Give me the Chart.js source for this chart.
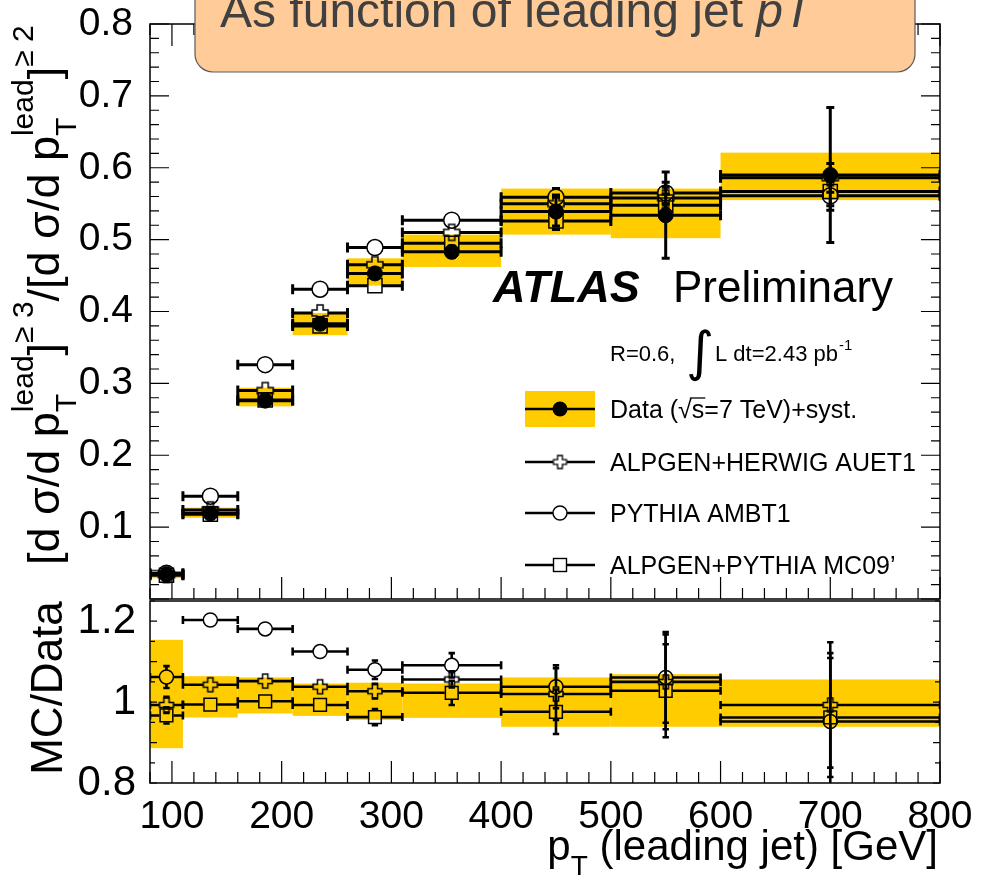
<!DOCTYPE html>
<html>
<head>
<meta charset="utf-8">
<title>ATLAS 3/2 jet ratio vs leading jet pT</title>
<script src="https://cdn.jsdelivr.net/npm/chart.js@4.4.0/dist/chart.umd.min.js"></script>
<style>
  html, body { margin: 0; padding: 0; background: #fff; }
  #wrap { position: relative; width: 981px; height: 887px; overflow: hidden; }
  #top { position: absolute; left: 0; top: 0; }
  #ratio { position: absolute; left: 0; top: 600px; }
</style>
</head>
<body>
<div id="wrap">
  <canvas id="top" width="981" height="600"></canvas>
  <canvas id="ratio" width="981" height="287"></canvas>
</div>
<script>
// === Dados ===
const binEdges = [80, 110, 160, 210, 260, 310, 400, 500, 600, 800];
const binCenters = [95, 135, 185, 235, 285, 355, 450, 550, 700];

// painel de cima: razão 3/2 jatos
const dataVal    = [0.034, 0.119, 0.276, 0.383, 0.453, 0.483, 0.539, 0.534, 0.590];
const dataStat   = [0.001, 0.002, 0.003, 0.004, 0.006, 0.008, 0.020, 0.060, 0.094];
const dataSystLo = [0.029, 0.113, 0.268, 0.367, 0.436, 0.462, 0.507, 0.502, 0.555];
const dataSystHi = [0.039, 0.127, 0.294, 0.398, 0.474, 0.507, 0.571, 0.571, 0.621];
const herwigVal  = [0.034, 0.124, 0.290, 0.398, 0.465, 0.510, 0.550, 0.558, 0.586];
const pythiaVal  = [0.036, 0.143, 0.326, 0.431, 0.489, 0.527, 0.559, 0.565, 0.561];
const mc09Val    = [0.033, 0.118, 0.277, 0.380, 0.436, 0.495, 0.526, 0.548, 0.567];
const mcStat     = [0.001, 0.002, 0.003, 0.003, 0.005, 0.006, 0.012, 0.015, 0.020];

// painel de baixo: MC/Data
const herwigRatio    = [0.993, 1.043, 1.052, 1.038, 1.027, 1.056, 1.020, 1.050, 0.993];
const pythiaRatio    = [1.062, 1.203, 1.181, 1.125, 1.080, 1.091, 1.038, 1.061, 0.952];
const mc09Ratio      = [0.967, 0.994, 1.002, 0.993, 0.963, 1.023, 0.976, 1.028, 0.962];
const herwigRatioErr = [0.020, 0.006, 0.006, 0.006, 0.018, 0.020, 0.064, 0.117, 0.155];
const pythiaRatioErr = [0.027, 0.006, 0.006, 0.008, 0.023, 0.030, 0.053, 0.112, 0.169];
const mc09RatioErr   = [0.020, 0.006, 0.006, 0.006, 0.020, 0.030, 0.055, 0.115, 0.147];
const ratioBandLo    = [0.886, 0.962, 0.972, 0.966, 0.956, 0.961, 0.939, 0.939, 0.939];
const ratioBandHi    = [1.154, 1.064, 1.061, 1.046, 1.048, 1.046, 1.061, 1.069, 1.056];

// eixos
const topTickValues   = [0.1, 0.2, 0.3, 0.4, 0.5, 0.6, 0.7, 0.8];
const topTickLabels   = ['0.1', '0.2', '0.3', '0.4', '0.5', '0.6', '0.7', '0.8'];
const ratioTickValues = [0.8, 1.0, 1.2];
const ratioTickLabels = ['0.8', '1', '1.2'];
const xTickValues     = [100, 200, 300, 400, 500, 600, 700, 800];
const xTickLabels     = ['100', '200', '300', '400', '500', '600', '700', '800'];

const legendLabels = ['Data (\u221As=7 TeV)+syst.', 'ALPGEN+HERWIG AUET1', 'PYTHIA AMBT1', 'ALPGEN+PYTHIA MC09\u2019'];

const FONT = '"Liberation Sans", Arial, Helvetica, sans-serif';
const YELLOW = '#FFCC00';

// === Marcador "cruz aberta" (estilo ROOT 28) ===
function makeCross(L, a, lw) {
    const c = document.createElement('canvas');
    const n = Math.ceil(2 * L + lw + 2);
    c.width = n; c.height = n;
    const g = c.getContext('2d');
    g.translate(n / 2, n / 2);
    g.beginPath();
    g.moveTo(-a, -L); g.lineTo(a, -L); g.lineTo(a, -a); g.lineTo(L, -a);
    g.lineTo(L, a); g.lineTo(a, a); g.lineTo(a, L); g.lineTo(-a, L);
    g.lineTo(-a, a); g.lineTo(-L, a); g.lineTo(-L, -a); g.lineTo(-a, -a);
    g.closePath();
    g.lineWidth = lw; g.strokeStyle = '#000'; g.stroke();
    return c;
}
const crossTop = makeCross(8, 3, 1.5);
const crossRatio = makeCross(7, 2.6, 1.5);
const crossLegend = makeCross(6.5, 2.4, 1.3);

// === Helpers de desenho ===
function points(vals) {
    return binCenters.map((x, i) => ({ x: x, y: vals[i] }));
}

function drawBands(chart, lo, hi) {
    const { ctx, scales: { x, y } } = chart;
    ctx.fillStyle = YELLOW;
    for (let i = 0; i < lo.length; i++) {
        const x0 = x.getPixelForValue(binEdges[i]);
        const x1 = x.getPixelForValue(binEdges[i + 1]);
        const yt = y.getPixelForValue(hi[i]);
        const yb = y.getPixelForValue(lo[i]);
        ctx.fillRect(x0, yt, x1 - x0, yb - yt);
    }
}

function drawErrors(chart, vals, errs, gap, lw, cap) {
    const { ctx, scales: { x, y } } = chart;
    ctx.strokeStyle = '#000';
    ctx.lineWidth = lw;
    ctx.beginPath();
    for (let i = 0; i < vals.length; i++) {
        const x0 = x.getPixelForValue(binEdges[i]);
        const x1 = x.getPixelForValue(binEdges[i + 1]);
        const xc = x.getPixelForValue(binCenters[i]);
        const yc = y.getPixelForValue(vals[i]);
        ctx.moveTo(x0, yc); ctx.lineTo(xc - gap, yc);
        ctx.moveTo(xc + gap, yc); ctx.lineTo(x1, yc);
        ctx.moveTo(x0, yc - cap); ctx.lineTo(x0, yc + cap);
        ctx.moveTo(x1, yc - cap); ctx.lineTo(x1, yc + cap);
        const yt = y.getPixelForValue(vals[i] + errs[i]);
        const yb = y.getPixelForValue(vals[i] - errs[i]);
        if (yc - yt > gap) {
            ctx.moveTo(xc, yc - gap); ctx.lineTo(xc, yt);
            ctx.moveTo(xc - cap * 0.8, yt); ctx.lineTo(xc + cap * 0.8, yt);
        }
        if (yb - yc > gap) {
            ctx.moveTo(xc, yc + gap); ctx.lineTo(xc, yb);
            ctx.moveTo(xc - cap * 0.8, yb); ctx.lineTo(xc + cap * 0.8, yb);
        }
    }
    ctx.stroke();
}

// moldura com marcas para dentro (estilo ROOT)
function drawFrame(chart, o) {
    const { ctx, chartArea: a, scales: { x, y } } = chart;
    ctx.save();
    ctx.strokeStyle = '#000';
    ctx.lineWidth = 1.5;
    ctx.strokeRect(a.left, a.top, a.right - a.left, a.bottom - a.top);
    ctx.lineWidth = 1.2;
    ctx.beginPath();
    for (let k = 0; k <= 36; k++) {
        const v = 80 + k * 20;
        const px = x.getPixelForValue(v);
        const len = v % 100 === 0 ? o.xMajor : o.xMinor;
        ctx.moveTo(px, a.bottom); ctx.lineTo(px, a.bottom - len);
        if (o.topTicks) { ctx.moveTo(px, a.top); ctx.lineTo(px, a.top + len); }
    }
    for (let k = 0; k <= o.yCount; k++) {
        const v = o.yStart + k * o.yStep;
        const py = y.getPixelForValue(v);
        const len = k % o.yMajorEvery === 0 ? o.yMajor : o.yMinor;
        ctx.moveTo(a.left, py); ctx.lineTo(a.left + len, py);
        ctx.moveTo(a.right, py); ctx.lineTo(a.right - len, py);
    }
    ctx.stroke();
    ctx.restore();
}

// texto com sub/sobrescritos
function richText(ctx, parts, x, y, draw) {
    let cx = x, hold = 0;
    for (const p of parts) {
        ctx.font = (p.it ? 'italic ' : '') + (p.b ? 'bold ' : '') + p.s + 'px ' + FONT;
        const w = ctx.measureText(p.t).width;
        if (draw) ctx.fillText(p.t, cx, y + (p.dy || 0));
        if (p.hold) hold = Math.max(hold, w);
        else { cx += Math.max(w, hold); hold = 0; }
    }
    return cx - x;
}

function roundBox(ctx, x0, y0, x1, y1, r) {
    ctx.beginPath();
    ctx.moveTo(x0 + r, y0);
    ctx.lineTo(x1 - r, y0); ctx.arcTo(x1, y0, x1, y0 + r, r);
    ctx.lineTo(x1, y1 - r); ctx.arcTo(x1, y1, x1 - r, y1, r);
    ctx.lineTo(x0 + r, y1); ctx.arcTo(x0, y1, x0, y1 - r, r);
    ctx.lineTo(x0, y0 + r); ctx.arcTo(x0, y0, x0 + r, y0, r);
    ctx.closePath();
}

// === Plugin do painel de cima ===
const topDecor = {
    id: 'topDecor',
    beforeDatasetsDraw(chart) {
        const { ctx, chartArea: a } = chart;
        ctx.save();
        ctx.beginPath(); ctx.rect(a.left, a.top, a.right - a.left, a.bottom - a.top); ctx.clip();
        drawBands(chart, dataSystLo, dataSystHi);
        drawErrors(chart, mc09Val, mcStat, 7, 3, 5);
        drawErrors(chart, pythiaVal, mcStat, 8, 3, 5);
        drawErrors(chart, herwigVal, mcStat, 8, 3, 5);
        drawErrors(chart, dataVal, dataStat, 0, 3, 5);
        ctx.restore();
    },
    afterDatasetsDraw(chart) {
        const { ctx } = chart;
        drawFrame(chart, { xMajor: 22, xMinor: 11, topTicks: true,
            yStart: 0, yStep: 0.02, yCount: 40, yMajorEvery: 5, yMajor: 19, yMinor: 9 });

        ctx.save();
        // caixa do título
        roundBox(ctx, 195, -40, 915, 72, 18);
        ctx.fillStyle = '#FFCC99';
        ctx.fill();
        ctx.strokeStyle = '#5a5a5a';
        ctx.lineWidth = 1.2;
        ctx.stroke();
        ctx.fillStyle = '#404040';
        ctx.textBaseline = 'alphabetic';
        richText(ctx, [{ t: 'As function of leading jet ', s: 48 }, { t: 'pT', s: 48, it: true }], 220, 27, true);

        // ATLAS Preliminary
        ctx.fillStyle = '#000';
        ctx.font = 'italic bold 45px ' + FONT;
        ctx.fillText('ATLAS', 493, 302);
        ctx.font = '44px ' + FONT;
        ctx.fillText('Preliminary', 673, 302);

        // R=0.6, ∫ L dt = 2.43 pb^-1
        ctx.font = '22px ' + FONT;
        ctx.fillText('R=0.6,', 610, 361);
        ctx.font = '54px "DejaVu Sans", ' + FONT;
        ctx.fillText('\u222B', 686, 370);
        ctx.font = '22px ' + FONT;
        ctx.fillText('L dt=2.43 pb', 715, 361);
        const wpb = ctx.measureText('L dt=2.43 pb').width;
        ctx.font = '15px ' + FONT;
        ctx.fillText('-1', 715 + wpb + 1, 350);

        // legenda
        const ly = [409, 462, 513, 565];
        ctx.fillStyle = YELLOW;
        ctx.fillRect(525, 391, 70, 36);
        ctx.strokeStyle = '#000';
        ctx.lineWidth = 2.5;
        ctx.beginPath();
        ly.forEach((yy, i) => {
            const g = i === 0 ? 0 : 7;
            ctx.moveTo(525, yy); ctx.lineTo(560 - g, yy);
            ctx.moveTo(560 + g, yy); ctx.lineTo(595, yy);
        });
        ctx.stroke();
        ctx.fillStyle = '#000';
        ctx.beginPath(); ctx.arc(560, ly[0], 7.5, 0, Math.PI * 2); ctx.fill();
        ctx.drawImage(crossLegend, 560 - crossLegend.width / 2, ly[1] - crossLegend.height / 2);
        ctx.lineWidth = 1.4;
        ctx.beginPath(); ctx.arc(560, ly[2], 7, 0, Math.PI * 2); ctx.stroke();
        ctx.strokeRect(553.5, ly[3] - 6.5, 13, 13);

        ctx.font = '25px ' + FONT;
        legendLabels.forEach((t, i) => ctx.fillText(t, 610, ly[i] + 9));
        // barra do √s
        const wPre = ctx.measureText('Data (\u221A').width;
        const wS = ctx.measureText('s').width;
        ctx.lineWidth = 1.3;
        ctx.beginPath();
        ctx.moveTo(610 + wPre - 2, ly[0] - 11);
        ctx.lineTo(610 + wPre + wS + 1, ly[0] - 11);
        ctx.stroke();

        // título do eixo y (rotacionado)
        const yTitle = [
            { t: '[d \u03C3/d p', s: 45 },
            { t: 'T', s: 30, dy: 17, hold: true },
            { t: 'lead', s: 30, dy: -26 },
            { t: ']', s: 45 },
            { t: '\u2265 3', s: 30, dy: -26 },
            { t: '/[d \u03C3/d p', s: 45 },
            { t: 'T', s: 30, dy: 17, hold: true },
            { t: 'lead', s: 30, dy: -26 },
            { t: ']', s: 45 },
            { t: '\u2265 2', s: 30, dy: -26 }
        ];
        ctx.translate(59, 565);
        ctx.rotate(-Math.PI / 2);
        richText(ctx, yTitle, 0, 0, true);
        ctx.restore();
    }
};

// === Plugin do painel de razão ===
const ratioDecor = {
    id: 'ratioDecor',
    beforeDatasetsDraw(chart) {
        const { ctx, chartArea: a } = chart;
        ctx.save();
        ctx.beginPath(); ctx.rect(a.left, a.top, a.right - a.left, a.bottom - a.top); ctx.clip();
        drawBands(chart, ratioBandLo, ratioBandHi);
        drawErrors(chart, mc09Ratio, mc09RatioErr, 7, 2.6, 4);
        drawErrors(chart, pythiaRatio, pythiaRatioErr, 7, 2.6, 4);
        drawErrors(chart, herwigRatio, herwigRatioErr, 7, 2.6, 4);
        ctx.restore();
    },
    afterDatasetsDraw(chart) {
        const { ctx } = chart;
        drawFrame(chart, { xMajor: 22, xMinor: 11, topTicks: false,
            yStart: 0.8, yStep: 0.05, yCount: 9, yMajorEvery: 2, yMajor: 7, yMinor: 5 });
        ctx.save();
        ctx.fillStyle = '#000';
        // MC/Data
        ctx.save();
        ctx.translate(62, 88);
        ctx.rotate(-Math.PI / 2);
        ctx.font = '44px ' + FONT;
        ctx.textAlign = 'center';
        ctx.fillText('MC/Data', 0, 0);
        ctx.restore();
        // título do eixo x
        const xTitle = [
            { t: 'p', s: 42 },
            { t: 'T', s: 28, dy: 15 },
            { t: ' (leading jet) [GeV]', s: 42 }
        ];
        const w = richText(ctx, xTitle, 0, 0, false);
        richText(ctx, xTitle, 938 - w, 260, true);
        ctx.restore();
    }
};

const fontTicks = { family: FONT, size: 39 };

// === Gráfico de cima ===
new Chart(document.getElementById('top'), {
    type: 'scatter',
    data: {
        datasets: [
            { label: 'Data', data: points(dataVal), pointStyle: 'circle', pointRadius: 7.5,
              backgroundColor: '#000', borderColor: '#000', borderWidth: 1 },
            { label: 'PYTHIA AMBT1', data: points(pythiaVal), pointStyle: 'circle', pointRadius: 8,
              backgroundColor: 'rgba(0,0,0,0)', borderColor: '#000', borderWidth: 1.5 },
            { label: 'ALPGEN+HERWIG AUET1', data: points(herwigVal), pointStyle: crossTop, pointRadius: 8,
              backgroundColor: 'rgba(0,0,0,0)', borderColor: '#000' },
            { label: 'ALPGEN+PYTHIA MC09', data: points(mc09Val), pointStyle: 'rect', pointRadius: 10,
              backgroundColor: 'rgba(0,0,0,0)', borderColor: '#000', borderWidth: 1.5 }
        ]
    },
    options: {
        responsive: false,
        animation: false,
        events: [],
        layout: { autoPadding: false, padding: { left: 0, right: 41, top: 24, bottom: 1 } },
        plugins: { legend: { display: false }, tooltip: { enabled: false } },
        scales: {
            x: { type: 'linear', min: 80, max: 800, display: false },
            y: {
                type: 'linear', min: 0, max: 0.8, position: 'left',
                grid: { display: false }, border: { display: false },
                afterBuildTicks: s => { s.ticks = topTickValues.map(v => ({ value: v })); },
                afterFit: s => { s.width = 150; s.paddingTop = 0; s.paddingBottom = 0; },
                ticks: { autoSkip: false, padding: 9, color: '#000', font: fontTicks,
                         callback: (v, i) => topTickLabels[i] }
            }
        }
    },
    plugins: [topDecor]
});

// === Gráfico de razão ===
new Chart(document.getElementById('ratio'), {
    type: 'scatter',
    data: {
        datasets: [
            { label: 'PYTHIA AMBT1', data: points(pythiaRatio), pointStyle: 'circle', pointRadius: 7,
              backgroundColor: 'rgba(0,0,0,0)', borderColor: '#000', borderWidth: 1.5 },
            { label: 'ALPGEN+HERWIG AUET1', data: points(herwigRatio), pointStyle: crossRatio, pointRadius: 7,
              backgroundColor: 'rgba(0,0,0,0)', borderColor: '#000' },
            { label: 'ALPGEN+PYTHIA MC09', data: points(mc09Ratio), pointStyle: 'rect', pointRadius: 9,
              backgroundColor: 'rgba(0,0,0,0)', borderColor: '#000', borderWidth: 1.5 }
        ]
    },
    options: {
        responsive: false,
        animation: false,
        events: [],
        layout: { autoPadding: false, padding: { left: 0, right: 41, top: 1, bottom: 0 } },
        plugins: { legend: { display: false }, tooltip: { enabled: false } },
        scales: {
            x: {
                type: 'linear', min: 80, max: 800, position: 'bottom',
                grid: { display: false }, border: { display: false },
                afterBuildTicks: s => { s.ticks = xTickValues.map(v => ({ value: v })); },
                afterFit: s => { s.height = 104; s.paddingLeft = 0; s.paddingRight = 0; },
                ticks: { autoSkip: false, maxRotation: 0, padding: 3, color: '#000', font: fontTicks,
                         callback: (v, i) => xTickLabels[i] }
            },
            y: {
                type: 'linear', min: 0.8, max: 1.25, position: 'left',
                grid: { display: false }, border: { display: false },
                afterBuildTicks: s => { s.ticks = ratioTickValues.map(v => ({ value: v })); },
                afterFit: s => { s.width = 150; s.paddingTop = 0; s.paddingBottom = 0; },
                ticks: { autoSkip: false, padding: 6, color: '#000', font: { family: FONT, size: 42 },
                         callback: (v, i) => ratioTickLabels[i] }
            }
        }
    },
    plugins: [ratioDecor]
});
</script>
</body>
</html>
